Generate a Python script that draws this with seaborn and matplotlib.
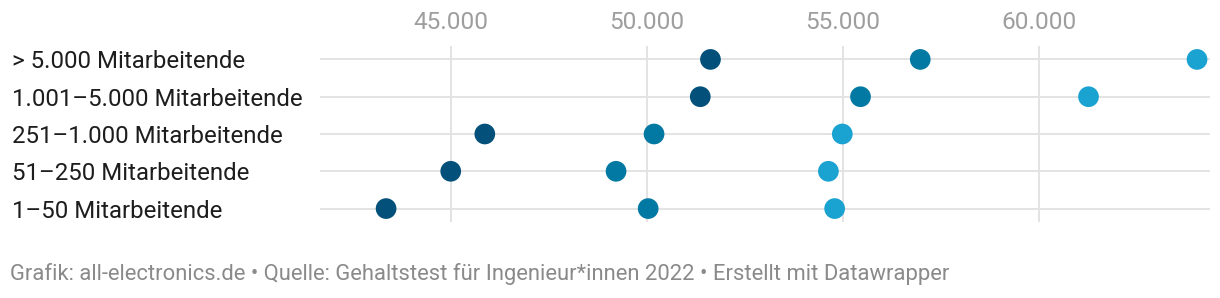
import matplotlib
matplotlib.use("Agg")
import matplotlib.pyplot as plt
import seaborn as sns
import pandas as pd

categories = ["> 5.000 Mitarbeitende", "1.001–5.000 Mitarbeitende",
              "251–1.000 Mitarbeitende", "51–250 Mitarbeitende",
              "1–50 Mitarbeitende"]
series_names = ["Serie 1", "Serie 2", "Serie 3"]
values_low = [51620, 51360, 45860, 44990, 43340]
values_mid = [56975, 55450, 50180, 49210, 50030]
values_high = [64040, 61270, 54985, 54630, 54790]
x_ticks = [45000, 50000, 55000, 60000]
x_tick_labels = ["45.000", "50.000", "55.000", "60.000"]
colors = ["#03517a", "#0279a2", "#1aa2d0"]
footer = ("Grafik: all-electronics.de • Quelle: Gehaltstest für Ingenieur*innen 2022 "
          "• Erstellt mit Datawrapper")

sns.set_theme(style="white")
plt.rcParams["font.family"] = ["Roboto", "DejaVu Sans"]

rows = []
for name, vals in zip(series_names, [values_low, values_mid, values_high]):
    for c, v in zip(categories, vals):
        rows.append({"Kategorie": c, "Serie": name, "Wert": v})
df = pd.DataFrame(rows)

W, H = 1220, 298
fig = plt.figure(figsize=(W / 100, H / 100), dpi=100)
ax = fig.add_axes([320 / W, (H - 222) / H, (1210 - 320) / W, 176 / H])

grid_c = "#e3e3e3"
for xt in x_ticks:
    ax.axvline(xt, color=grid_c, lw=1.4, zorder=0)
for i in range(len(categories)):
    ax.axhline(i, color=grid_c, lw=1.4, zorder=0)

sns.stripplot(data=df, x="Wert", y="Kategorie", hue="Serie", order=categories,
              hue_order=series_names, palette=colors, jitter=False, dodge=False,
              size=14.9, linewidth=0, legend=False, ax=ax, zorder=3)

ax.set_xlim(41653, 64371)
ax.set_ylim(len(categories) - 1 + 0.36, -0.36)
ax.set_xlabel("")
ax.set_ylabel("")
for s in ax.spines.values():
    s.set_visible(False)

ax.xaxis.tick_top()
ax.set_xticks(x_ticks)
ax.set_xticklabels(x_tick_labels)
ax.tick_params(axis="x", length=0, pad=8.8, labelsize=17.6, labelcolor="#9e9e9e")
ax.tick_params(axis="y", length=0, pad=(320 - 12) * 0.72, labelsize=17.3,
               labelcolor="#1d1d1d")
for lab in ax.get_yticklabels():
    lab.set_horizontalalignment("left")

fig.text(10 / W, 1 - 274 / H, footer, ha="left", va="center", fontsize=15.8,
         color="#8a8a8a")

fig.savefig("out.png", dpi=100)
